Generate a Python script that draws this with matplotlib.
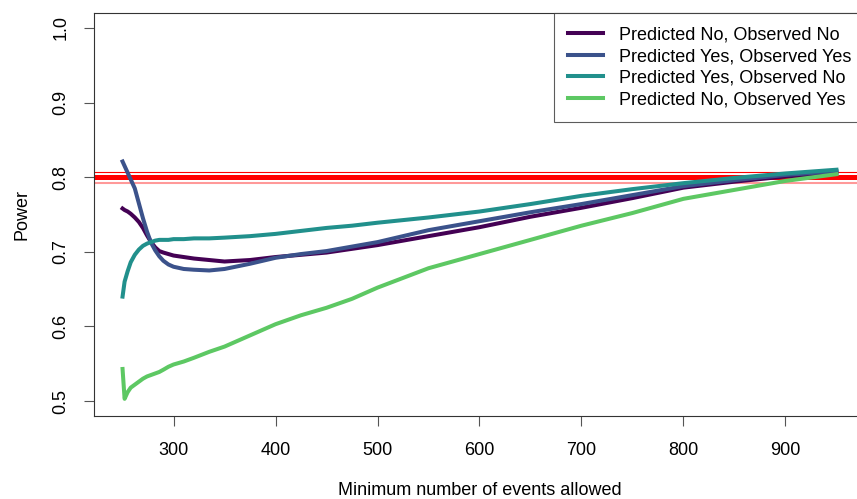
import numpy as np
import matplotlib.pyplot as plt

plt.rcParams['font.family'] = ['Liberation Sans', 'DejaVu Sans']

# minimum number of events allowed (x) and the power of each outcome group
events = [250, 252, 255, 258, 262, 266, 270, 274, 278, 282, 286, 290, 295, 300,
          310, 320, 335, 350, 375, 400, 425, 450, 475, 500, 550, 600, 650, 700,
          750, 800, 850, 900, 950]

no_no = [0.758, 0.756, 0.754, 0.751, 0.746, 0.740, 0.732, 0.722, 0.713, 0.706,
         0.701, 0.699, 0.697, 0.695, 0.693, 0.691, 0.689, 0.687, 0.689, 0.693,
         0.696, 0.699, 0.704, 0.709, 0.721, 0.733, 0.747, 0.759, 0.772, 0.786,
         0.794, 0.801, 0.806]
yes_yes = [0.821, 0.815, 0.806, 0.797, 0.785, 0.765, 0.745, 0.727, 0.712, 0.702,
           0.694, 0.688, 0.683, 0.680, 0.677, 0.676, 0.675, 0.677, 0.684, 0.692,
           0.697, 0.701, 0.707, 0.713, 0.729, 0.741, 0.753, 0.764, 0.776, 0.788,
           0.796, 0.803, 0.808]
yes_no = [0.640, 0.660, 0.674, 0.686, 0.696, 0.703, 0.708, 0.711, 0.713, 0.715,
          0.716, 0.716, 0.716, 0.717, 0.717, 0.718, 0.718, 0.719, 0.721, 0.724,
          0.728, 0.732, 0.735, 0.739, 0.746, 0.754, 0.764, 0.775, 0.784, 0.792,
          0.799, 0.805, 0.810]
no_yes = [0.543, 0.503, 0.512, 0.518, 0.522, 0.526, 0.530, 0.533, 0.535, 0.537,
          0.539, 0.542, 0.546, 0.549, 0.553, 0.558, 0.566, 0.573, 0.588, 0.603,
          0.615, 0.625, 0.637, 0.652, 0.678, 0.697, 0.716, 0.735, 0.752, 0.771,
          0.783, 0.795, 0.804]

labels = ["Predicted No, Observed No", "Predicted Yes, Observed Yes",
          "Predicted Yes, Observed No", "Predicted No, Observed Yes"]
colors = ["#440154", "#3B528B", "#21908C", "#5DC863"]

target = 0.80
target_hi = 0.8067
target_lo = 0.792

fig = plt.figure(figsize=(8.57, 4.99), dpi=100)
ax = fig.add_axes([94 / 857, 83 / 499, 771 / 857, 403 / 499])

ax.axhline(target_hi, color="red", lw=0.8, zorder=1)
ax.axhline(target, color="red", lw=3.6, zorder=1)
ax.axhline(target_lo, color="red", lw=1.5, alpha=0.4, zorder=1)

for series, lab, col in zip([no_no, yes_yes, yes_no, no_yes], labels, colors):
    ax.plot(events, series, color=col, lw=2.9, label=lab, zorder=2)

ax.set_xlim(222, 978)
ax.set_ylim(0.48, 1.02)
ax.set_xticks([300, 400, 500, 600, 700, 800, 900])
ax.set_yticks([0.5, 0.6, 0.7, 0.8, 0.9, 1.0])
ax.set_yticklabels(["0.5", "0.6", "0.7", "0.8", "0.9", "1.0"], rotation=90, va="center")

for sp in ax.spines.values():
    sp.set_linewidth(0.8)
    sp.set_color("#333333")
ax.tick_params(axis="both", direction="out", length=7.5, width=0.8,
               color="#555555", labelsize=13)
ax.tick_params(axis="x", pad=11)
ax.tick_params(axis="y", pad=10)

ax.set_xlabel("Minimum number of events allowed", fontsize=13, labelpad=17)
ax.set_ylabel("Power", fontsize=13, labelpad=16)

leg = ax.legend(loc="upper right", fontsize=13, frameon=True, fancybox=False,
                borderaxespad=0, handlelength=1.95, handletextpad=0.9,
                labelspacing=0.25, borderpad=0.75)
leg.get_frame().set_edgecolor("#333333")
leg.get_frame().set_linewidth(0.8)

fig.savefig("out.png", dpi=100)
